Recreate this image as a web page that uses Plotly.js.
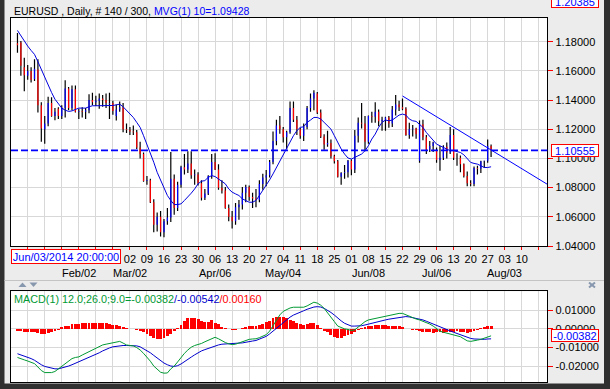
<!DOCTYPE html>
<html><head><meta charset="utf-8">
<script src="https://cdn.plot.ly/plotly-3.0.1.min.js"></script>
<style>html,body{margin:0;padding:0;background:#ececec;overflow:hidden}#chart{width:610px;height:389px}</style>
</head><body><div id="chart"></div>
<script>
// ---------- DATA (EURUSD daily, 140 bars) ----------
const openP = [1.1790,1.1795,1.1625,1.1566,1.1600,1.1545,1.1610,1.1365,1.1200,1.1240,
1.1380,1.1290,1.1340,1.1290,1.1345,1.1480,1.1345,1.1475,1.1320,1.1325,
1.1320,1.1330,1.1400,1.1385,1.1395,1.1410,1.1400,1.1375,1.1380,1.1290,
1.1335,1.1350,1.1200,1.1195,1.1185,1.1180,1.1075,1.1030,1.0845,1.0850,
1.0700,1.0545,1.0600,1.0495,1.0570,1.0595,1.0860,1.0660,1.0820,1.0940,
1.0925,1.0965,1.0885,1.0890,1.0830,1.0730,1.0760,1.0880,1.0975,1.0925,
1.0800,1.0780,1.0660,1.0600,1.0570,1.0665,1.0685,1.0765,1.0805,1.0735,
1.0725,1.0715,1.0825,1.0870,1.0885,1.0975,1.1120,1.1225,1.1200,1.1145,
1.1180,1.1345,1.1265,1.1200,1.1155,1.1215,1.1345,1.1410,1.1445,1.1315,
1.1150,1.1095,1.1105,1.1015,1.0980,1.0875,1.0900,1.0905,1.0985,1.0925,
1.1155,1.1245,1.1240,1.1115,1.1290,1.1285,1.1320,1.1255,1.1265,1.1280,
1.1240,1.1335,1.1370,1.1350,1.1340,1.1160,1.1200,1.1205,1.0985,1.1235,
1.1145,1.1060,1.1085,1.1055,1.0990,1.1005,1.1080,1.1040,1.1160,1.1005,
1.1005,1.0960,1.0880,1.0830,1.0825,1.0935,1.0930,1.0980,1.0985,1.1085];
const highP = [1.1860,1.1805,1.1690,1.1640,1.1625,1.1680,1.1680,1.1385,1.1290,1.1423,
1.1420,1.1345,1.1350,1.1365,1.1535,1.1490,1.1500,1.1500,1.1340,1.1350,
1.1345,1.1440,1.1450,1.1430,1.1445,1.1435,1.1445,1.1450,1.1395,1.1370,
1.1390,1.1380,1.1240,1.1215,1.1225,1.1195,1.1115,1.1040,1.0880,1.0860,
1.0720,1.0630,1.0640,1.0585,1.0660,1.1045,1.0890,1.0840,1.0950,1.1030,
1.1050,1.1050,1.0925,1.0905,1.0850,1.0790,1.0885,1.1030,1.1035,1.0960,
1.0850,1.0805,1.0685,1.0640,1.0695,1.0715,1.0805,1.0820,1.0815,1.0765,
1.0790,1.0850,1.0895,1.0920,1.0990,1.1185,1.1265,1.1290,1.1215,1.1190,
1.1390,1.1390,1.1290,1.1210,1.1240,1.1360,1.1445,1.1467,1.1455,1.1335,
1.1165,1.1190,1.1130,1.1025,1.0990,1.0905,1.0955,1.0990,1.0995,1.1195,
1.1280,1.1380,1.1290,1.1295,1.1320,1.1385,1.1335,1.1285,1.1285,1.1290,
1.1360,1.1435,1.1395,1.1410,1.1350,1.1245,1.1230,1.1210,1.1260,1.1265,
1.1160,1.1120,1.1115,1.1075,1.1085,1.1090,1.1110,1.1215,1.1200,1.1035,
1.1020,1.0965,1.0910,1.0850,1.0945,1.0950,1.0985,1.0985,1.1130,1.1095];
const lowP = [1.1725,1.1567,1.1460,1.1540,1.1520,1.1530,1.1315,1.1115,1.1100,1.1220,
1.1285,1.1262,1.1270,1.1270,1.1280,1.1330,1.1330,1.1315,1.1270,1.1280,
1.1270,1.1310,1.1365,1.1360,1.1340,1.1355,1.1345,1.1270,1.1300,1.1260,
1.1320,1.1180,1.1175,1.1160,1.1160,1.1065,1.1000,1.0840,1.0820,1.0695,
1.0495,1.0500,1.0465,1.0460,1.0545,1.0565,1.0615,1.0640,1.0800,1.0890,
1.0900,1.0860,1.0820,1.0815,1.0712,1.0715,1.0750,1.0860,1.0920,1.0785,
1.0760,1.0655,1.0570,1.0520,1.0545,1.0580,1.0650,1.0700,1.0710,1.0660,
1.0665,1.0700,1.0785,1.0810,1.0870,1.0960,1.1090,1.1170,1.1110,1.1065,
1.1170,1.1250,1.1160,1.1135,1.1120,1.1200,1.1320,1.1330,1.1305,1.1140,
1.1060,1.1080,1.1000,1.0965,1.0870,1.0820,1.0860,1.0870,1.0885,1.0900,
1.1110,1.1205,1.1050,1.1100,1.1245,1.1245,1.1220,1.1190,1.1190,1.1210,
1.1215,1.1295,1.1325,1.1330,1.1155,1.1135,1.1150,1.1135,1.0970,1.1125,
1.1030,1.1045,1.1045,1.0970,1.0915,1.0990,1.1000,1.1030,1.0990,1.0950,
1.0905,1.0870,1.0810,1.0810,1.0810,1.0890,1.0900,1.0935,1.0970,1.1010];
const closeP = [1.1775,1.1635,1.1570,1.1600,1.1537,1.1615,1.1365,1.1205,1.1240,1.1380,
1.1290,1.1320,1.1290,1.1345,1.1480,1.1345,1.1475,1.1320,1.1325,1.1320,
1.1330,1.1400,1.1385,1.1395,1.1410,1.1400,1.1380,1.1380,1.1325,1.1335,
1.1350,1.1200,1.1195,1.1185,1.1180,1.1075,1.1030,1.0845,1.0850,1.0700,
1.0545,1.0600,1.0495,1.0570,1.0595,1.0860,1.0660,1.0820,1.0940,1.0925,
1.0965,1.0885,1.0890,1.0830,1.0730,1.0760,1.0880,1.0975,1.0925,1.0800,
1.0780,1.0660,1.0600,1.0570,1.0665,1.0685,1.0765,1.0805,1.0735,1.0725,
1.0715,1.0825,1.0870,1.0885,1.0975,1.1120,1.1225,1.1200,1.1145,1.1180,
1.1345,1.1265,1.1200,1.1155,1.1215,1.1345,1.1410,1.1450,1.1315,1.1150,
1.1095,1.1105,1.1015,1.0980,1.0875,1.0900,1.0905,1.0985,1.0925,1.1155,
1.1245,1.1240,1.1115,1.1290,1.1285,1.1320,1.1255,1.1265,1.1280,1.1240,
1.1335,1.1370,1.1350,1.1340,1.1160,1.1200,1.1205,1.1165,1.1235,1.1145,
1.1060,1.1085,1.1110,1.0990,1.1005,1.1080,1.1040,1.1160,1.1005,1.1005,
1.0960,1.0880,1.0830,1.0825,1.0935,1.0930,1.0980,1.0985,1.1085,1.10555];
const ma10 = [1.1877,1.1839,1.1800,1.1770,1.1740,1.1713,1.1663,1.1611,1.1554,1.1497,
1.1452,1.1406,1.1372,1.1345,1.1331,1.1322,1.1326,1.1338,1.1345,1.1345,
1.1345,1.1354,1.1361,1.1361,1.1361,1.1363,1.1365,1.1365,1.1363,1.1367,
1.1372,1.1354,1.1331,1.1304,1.1281,1.1247,1.1213,1.1156,1.1099,1.1042,
1.0974,1.0905,1.0848,1.0796,1.0746,1.0712,1.0684,1.0684,1.0689,1.0712,
1.0734,1.0762,1.0791,1.0826,1.0844,1.0848,1.0871,1.0882,1.0876,1.0860,
1.0848,1.0826,1.0791,1.0769,1.0757,1.0746,1.0723,1.0712,1.0700,1.0700,
1.0712,1.0746,1.0780,1.0814,1.0853,1.0894,1.0939,1.0985,1.1030,1.1076,
1.1121,1.1156,1.1190,1.1213,1.1217,1.1247,1.1263,1.1281,1.1281,1.1270,
1.1247,1.1224,1.1201,1.1156,1.1110,1.1065,1.1030,1.1003,1.0996,1.1008,
1.1019,1.1030,1.1053,1.1087,1.1133,1.1167,1.1213,1.1247,1.1263,1.1258,
1.1263,1.1281,1.1297,1.1304,1.1297,1.1270,1.1258,1.1254,1.1235,1.1213,
1.1178,1.1149,1.1126,1.1098,1.1087,1.1075,1.1064,1.1053,1.1053,1.1048,
1.1041,1.1025,1.0995,1.0973,1.0966,1.0961,1.0950,1.0938,1.0938,1.09428];
const macdLine = [-0.0154,-0.0162,-0.0167,-0.0173,-0.0182,-0.0187,-0.0205,-0.0224,-0.0235,-0.0237,
-0.0235,-0.0229,-0.0215,-0.0200,-0.0187,-0.0174,-0.0160,-0.0154,-0.0151,-0.0141,
-0.0132,-0.0120,-0.0110,-0.0101,-0.0092,-0.0087,-0.0083,-0.0079,-0.0076,-0.0070,
-0.0068,-0.0077,-0.0087,-0.0090,-0.0092,-0.0101,-0.0114,-0.0132,-0.0151,-0.0174,
-0.0200,-0.0218,-0.0233,-0.0238,-0.0237,-0.0215,-0.0200,-0.0178,-0.0154,-0.0132,
-0.0114,-0.0099,-0.0090,-0.0085,-0.0079,-0.0070,-0.0061,-0.0052,-0.0046,-0.0054,
-0.0065,-0.0074,-0.0081,-0.0085,-0.0083,-0.0077,-0.0068,-0.0061,-0.0057,-0.0055,
-0.0054,-0.0048,-0.0041,-0.0032,-0.0013,0.0014,0.0045,0.0074,0.0093,0.0104,
0.0111,0.0115,0.0115,0.0117,0.0115,0.0122,0.0133,0.0142,0.0137,0.0126,
0.0109,0.0087,0.0063,0.0038,0.0014,0.0005,-0.0001,-0.0004,-0.0010,-0.0006,
0.0009,0.0023,0.0038,0.0047,0.0051,0.0054,0.0060,0.0063,0.0067,0.0071,
0.0074,0.0078,0.0082,0.0082,0.0074,0.0065,0.0058,0.0052,0.0047,0.0040,
0.0032,0.0025,0.0014,0.0001,-0.0013,-0.0019,-0.0024,-0.0028,-0.0030,-0.0035,
-0.0043,-0.0054,-0.0065,-0.0068,-0.0066,-0.0061,-0.0057,-0.0052,-0.0044,-0.00382];
const signalLine = [-0.0134,-0.0140,-0.0145,-0.0152,-0.0160,-0.0169,-0.0182,-0.0193,-0.0202,-0.0207,
-0.0211,-0.0215,-0.0215,-0.0211,-0.0205,-0.0200,-0.0193,-0.0185,-0.0178,-0.0171,
-0.0163,-0.0156,-0.0147,-0.0138,-0.0129,-0.0119,-0.0110,-0.0103,-0.0097,-0.0094,
-0.0090,-0.0090,-0.0090,-0.0090,-0.0090,-0.0092,-0.0097,-0.0107,-0.0118,-0.0129,
-0.0143,-0.0158,-0.0171,-0.0184,-0.0193,-0.0200,-0.0202,-0.0198,-0.0189,-0.0178,
-0.0165,-0.0152,-0.0140,-0.0129,-0.0119,-0.0112,-0.0105,-0.0097,-0.0092,-0.0087,
-0.0083,-0.0081,-0.0079,-0.0079,-0.0079,-0.0077,-0.0076,-0.0074,-0.0070,-0.0066,
-0.0063,-0.0057,-0.0050,-0.0041,-0.0028,-0.0013,0.0005,0.0020,0.0034,0.0049,
0.0062,0.0073,0.0082,0.0089,0.0096,0.0104,0.0111,0.0116,0.0118,0.0116,
0.0109,0.0100,0.0087,0.0073,0.0056,0.0042,0.0029,0.0020,0.0014,0.0014,
0.0014,0.0016,0.0020,0.0025,0.0031,0.0036,0.0040,0.0043,0.0047,0.0051,
0.0054,0.0058,0.0062,0.0065,0.0065,0.0063,0.0060,0.0056,0.0052,0.0047,
0.0040,0.0032,0.0025,0.0018,0.0010,0.0003,-0.0004,-0.0012,-0.0019,-0.0026,
-0.0033,-0.0041,-0.0046,-0.0052,-0.0055,-0.0057,-0.0057,-0.0057,-0.0055,-0.00542];
const histogram = [-0.0013,-0.0013,-0.0015,-0.0015,-0.0017,-0.0015,-0.0022,-0.0028,-0.0030,-0.0025,
-0.0018,-0.0010,-0.0005,0.0010,0.0013,0.0015,0.0025,0.0025,0.0027,0.0028,
0.0030,0.0030,0.0030,0.0033,0.0030,0.0030,0.0028,0.0025,0.0022,0.0018,
0.0015,0.0008,0.0004,0.0000,-0.0003,-0.0005,-0.0012,-0.0020,-0.0030,-0.0040,
-0.0048,-0.0055,-0.0055,-0.0052,-0.0040,-0.0028,-0.0012,0.0005,0.0020,0.0040,
0.0055,0.0058,0.0058,0.0050,0.0041,0.0038,0.0035,0.0045,0.0030,0.0025,
0.0010,0.0005,0.0000,-0.0008,-0.0008,-0.0003,0.0003,0.0007,0.0012,0.0015,
0.0015,0.0018,0.0025,0.0035,0.0040,0.0055,0.0065,0.0065,0.0062,0.0055,
0.0045,0.0040,0.0030,0.0025,0.0020,0.0025,0.0030,0.0030,0.0020,0.0005,
-0.0010,-0.0020,-0.0035,-0.0045,-0.0050,-0.0050,-0.0040,-0.0035,-0.0030,-0.0015,
-0.0005,0.0003,0.0008,0.0012,0.0015,0.0018,0.0018,0.0020,0.0018,0.0012,
0.0012,0.0012,0.0012,0.0010,-0.0003,-0.0003,-0.0005,-0.0008,-0.0010,-0.0015,
-0.0018,-0.0020,-0.0022,-0.0018,-0.0020,-0.0022,-0.0020,-0.0015,-0.0015,-0.0012,
-0.0015,-0.0020,-0.0022,-0.0020,-0.0012,-0.0005,0.0003,0.0008,0.0015,0.0016];
// trend line drawn by the user (bar index, price)
const trendX = [113, 155.5];
const trendY = [1.1428, 1.0823];
const lastPrice = 1.10555;
const lastMacd = -0.00382;
const topPriceLabel = "1.20385";
const cursorLabel = "Jun/03/2014 20:00:00";
// weekly ticks (bar index of each Monday) and labels
const weekTickIdx = [3,8,13,18,23,28,33,38,43,48,53,58,63,68,73,78,83,88,93,98,103,108,113,118,123,128,133,138,143,148,153];
const weekTickText = ["","","","","","","02","09","16","23","30","06","13","20","27","04","11","18","25","01","08","15","22","29","06","13","20","27","03","10",""];
const monthIdx = [18,33,58,78,103,123,143];
const monthText = ["Feb/02","Mar/02","Apr/06","May/04","Jun/08","Jul/06","Aug/03"];
const priceTicks = [1.04,1.06,1.08,1.10,1.12,1.14,1.16,1.18];
const priceTickText = ["1.04000","1.06000","1.08000","1.10000","1.12000","1.14000","1.16000","1.18000"];
const macdTicks = [-0.02,-0.01,0,0.01];
const macdTickText = ["-0.02000","-0.01000","0.00000","0.01000"];

// ---------- BUILD ----------
const W = 610, H = 389;
const px = x => x / W, py = y => (H - y) / H;
const FONT = 'Liberation Sans, Arial, sans-serif';
const idx = closeP.map((_, i) => i);

const wx = [], wy = [], rx = [], ry = [], bx = [], by = [];
idx.forEach(i => {
  wx.push(i, i, null); wy.push(lowP[i], highP[i], null);
  if (closeP[i] < openP[i]) { rx.push(i, i, null); ry.push(openP[i], closeP[i], null); }
  else if (closeP[i] > openP[i]) { bx.push(i, i, null); by.push(openP[i], closeP[i], null); }
});

const traces = [
  {x: wx, y: wy, type: 'scatter', mode: 'lines', line: {color: '#000000', width: 1.2}, hoverinfo: 'skip'},
  {x: rx, y: ry, type: 'scatter', mode: 'lines', line: {color: '#ff0000', width: 1.2}, hoverinfo: 'skip'},
  {x: bx, y: by, type: 'scatter', mode: 'lines', line: {color: '#0000ff', width: 1.2}, hoverinfo: 'skip'},
  {x: idx, y: ma10, type: 'scatter', mode: 'lines', line: {color: '#0000dd', width: 1}},
  {x: trendX, y: trendY, type: 'scatter', mode: 'lines', line: {color: '#0000ff', width: 1}},
  {x: idx, y: histogram, type: 'bar', xaxis: 'x2', yaxis: 'y2', marker: {color: '#ff0000', line: {width: 0}}, width: 0.85},
  {x: idx, y: signalLine, type: 'scatter', mode: 'lines', xaxis: 'x2', yaxis: 'y2', line: {color: '#0000cc', width: 1}},
  {x: idx, y: macdLine, type: 'scatter', mode: 'lines', xaxis: 'x2', yaxis: 'y2', line: {color: '#009933', width: 1}}
];

const xDom = [px(11), px(547.3)];
const xr = [-1.9, 155.5];
const gridC = '#d8d8d8';

const annotations = [
  {xref: 'paper', yref: 'paper', x: px(12), y: py(11), xanchor: 'left', yanchor: 'middle', showarrow: false,
   text: 'EURUSD , Daily, # 140 / 300, <span style="color:#0000ff">MVG(1) 10=1.09428</span>',
   font: {family: FONT, size: 10.5, color: '#000000'}},
  {xref: 'paper', yref: 'paper', x: px(12), y: py(298.5), xanchor: 'left', yanchor: 'middle', showarrow: false,
   text: '<span style="color:#009933">MACD(1) 12.0;26.0;9.0=-0.00382</span><span style="color:#0000cc">/-0.00542</span><span style="color:#ff0000">/0.00160</span>',
   font: {family: FONT, size: 10.8, color: '#009933'}},
  {xref: 'paper', yref: 'paper', x: px(66), y: py(256.8), xanchor: 'center', yanchor: 'middle', showarrow: false,
   text: cursorLabel, font: {family: FONT, size: 11, color: '#0000ff'}, bgcolor: '#ffffff', bordercolor: '#ff0000',
   borderwidth: 1, borderpad: 1, width: 106, height: 11},
  {xref: 'paper', yref: 'y', x: px(574.5), y: lastPrice, xanchor: 'center', yanchor: 'middle', showarrow: false,
   text: lastPrice.toFixed(5), font: {family: FONT, size: 11, color: '#0000ff'}, bgcolor: '#ffffff', bordercolor: '#ff0000',
   borderwidth: 1, borderpad: 0, width: 46, height: 11},
  {xref: 'paper', yref: 'y2', x: px(575), y: lastMacd, xanchor: 'center', yanchor: 'middle', showarrow: false,
   text: lastMacd.toFixed(5), font: {family: FONT, size: 11, color: '#0000ff'}, bgcolor: '#ffffff', bordercolor: '#ff0000',
   borderwidth: 1, borderpad: 0, width: 46, height: 11},
  {xref: 'paper', yref: 'paper', x: px(574.5), y: py(1), xanchor: 'center', yanchor: 'middle', showarrow: false,
   text: topPriceLabel, font: {family: FONT, size: 11, color: '#0000ff'}, bgcolor: '#ffffff', bordercolor: '#ff0000',
   borderwidth: 1, borderpad: 0, width: 46, height: 11}
];
monthIdx.forEach((m, k) => annotations.push({xref: 'x', yref: 'paper', x: m, y: py(272.5), xanchor: 'center', yanchor: 'middle',
  showarrow: false, text: monthText[k], font: {family: FONT, size: 11, color: '#000000'}}));

const shapes = [
  // current price dashed line
  {type: 'line', xref: 'x domain', yref: 'y', x0: 0, x1: 1, y0: lastPrice, y1: lastPrice,
   line: {color: '#0000ff', width: 1.6, dash: '7px,3px'}},
  // frame
  {type: 'rect', xref: 'paper', yref: 'paper', x0: 0, x1: px(4.5), y0: 0, y1: 1, fillcolor: '#303030', line: {width: 0}},
  {type: 'rect', xref: 'paper', yref: 'paper', x0: px(604), x1: 1, y0: 0, y1: 1, fillcolor: '#303030', line: {width: 0}},
  {type: 'rect', xref: 'paper', yref: 'paper', x0: 0, x1: 1, y0: 0, y1: py(383.5), fillcolor: '#303030', line: {width: 0}},
  // MACD header separator
  {type: 'line', xref: 'paper', yref: 'paper', x0: px(4.5), x1: px(604), y0: py(280.5), y1: py(280.5), line: {color: '#c4c4c4', width: 1}},
  {type: 'path', xref: 'paper', yref: 'paper', path: `M ${px(18.5)} ${py(287)} L ${px(22.5)} ${py(282.5)} L ${px(26.5)} ${py(287)} Z`, fillcolor: '#8797ae', line: {width: 0}},
  {type: 'path', xref: 'paper', yref: 'paper', path: `M ${px(29.5)} ${py(282.5)} L ${px(37.5)} ${py(282.5)} L ${px(33.5)} ${py(287)} Z`, fillcolor: '#8797ae', line: {width: 0}},
  {type: 'line', xref: 'paper', yref: 'paper', x0: px(589), x1: px(595), y0: py(282.5), y1: py(287.5), line: {color: '#8797ae', width: 2}},
  {type: 'line', xref: 'paper', yref: 'paper', x0: px(589), x1: px(595), y0: py(287.5), y1: py(282.5), line: {color: '#8797ae', width: 2}}
];

const layout = {
  width: W, height: H, autosize: false, margin: {l: 0, r: 0, t: 0, b: 0, pad: 0},
  paper_bgcolor: '#ececec', plot_bgcolor: '#ffffff', showlegend: false, hovermode: false,
  font: {family: FONT, size: 11, color: '#000000'},
  xaxis: {domain: xDom, range: xr, anchor: 'y', tickmode: 'array', tickvals: weekTickIdx, ticktext: weekTickText,
    ticks: 'outside', ticklen: 3, tickcolor: '#ff0000', tickwidth: 1, showgrid: true, gridcolor: gridC, gridwidth: 1,
    zeroline: false, showline: true, linecolor: '#000000', linewidth: 1, mirror: true,
    tickfont: {family: FONT, size: 11, color: '#000000'}, fixedrange: true},
  yaxis: {domain: [py(246), py(18)], range: [1.04, 1.19624], anchor: 'x', side: 'right', tickmode: 'array',
    tickvals: priceTicks, ticktext: priceTickText, ticks: 'outside', ticklen: 5, tickcolor: '#ff0000', tickwidth: 1,
    showgrid: true, gridcolor: gridC, zeroline: false, showline: true, linecolor: '#000000', linewidth: 1, mirror: true,
    tickfont: {family: FONT, size: 11, color: '#000000'}, fixedrange: true},
  xaxis2: {domain: xDom, range: xr, anchor: 'y2', tickmode: 'array', tickvals: weekTickIdx, showticklabels: false,
    ticks: '', showgrid: true, gridcolor: gridC, zeroline: false, showline: true, linecolor: '#000000', linewidth: 1,
    mirror: true, fixedrange: true},
  yaxis2: {domain: [py(382.3), py(291.3)], range: [-0.0287, 0.02003], anchor: 'x2', side: 'right', tickmode: 'array',
    tickvals: macdTicks, ticktext: macdTickText, ticks: 'outside', ticklen: 5, tickcolor: '#ff0000', tickwidth: 1,
    showgrid: true, gridcolor: gridC, zeroline: false, showline: true, linecolor: '#000000', linewidth: 1, mirror: true,
    tickfont: {family: FONT, size: 11, color: '#000000'}, fixedrange: true},
  bargap: 0, annotations: annotations, shapes: shapes
};

Plotly.newPlot('chart', traces, layout, {staticPlot: true, displayModeBar: false});
</script>
</body></html>
